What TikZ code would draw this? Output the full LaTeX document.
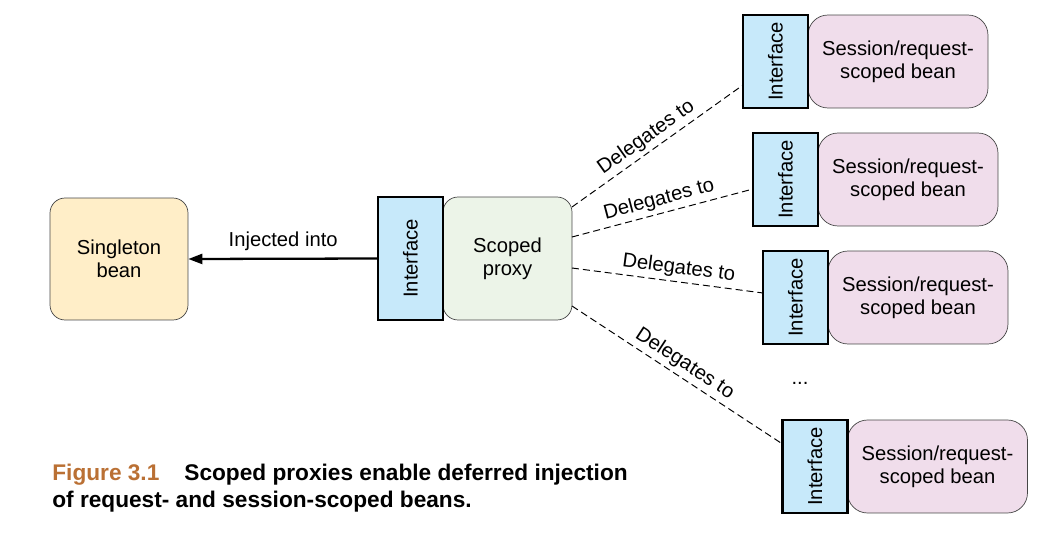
\documentclass[tikz,border=0pt]{standalone}
\usepackage{fontspec}
\setmainfont{Liberation Sans}
\usetikzlibrary{arrows.meta, positioning, calc}
\usepackage{xcolor}
\definecolor{singletonfill}{RGB}{255,238,200}
\definecolor{proxyfill}{RGB}{236,244,232}
\definecolor{ifacefill}{RGB}{199,233,250}
\definecolor{beanfill}{RGB}{240,221,235}
\definecolor{boxline}{RGB}{70,70,70}
\definecolor{figcolor}{RGB}{186,112,52}
\newcommand{\capfont}{\fontsize{12.9}{15}\selectfont\bfseries}

\begin{document}
\begin{tikzpicture}[x=0.02cm, y=-0.02cm,
    every node/.style={font=\fontsize{11.5}{13.1}\selectfont},
    iface/.style={draw, line width=1.2pt, fill=ifacefill, minimum width=1.3cm, inner sep=0pt, outer sep=0pt},
    bean/.style={draw=boxline, rounded corners=0.4cm, fill=beanfill, minimum width=3.6cm, minimum height=1.86cm, align=center, inner sep=0pt, outer sep=0pt},
    delegate/.style={dash pattern=on 0.14cm off 0.08cm, line width=0.55pt},
    dlabel/.style={sloped, above, inner sep=2pt}]
    \useasboundingbox (0,0) rectangle (1059,541);

    % singleton and proxy
    \node[draw=boxline, rounded corners=0.3cm, fill=singletonfill, minimum width=2.76cm, minimum height=2.44cm, align=center] (singleton) at (119,259) {Singleton\\bean};
    \node[draw=boxline, rounded corners=0.3cm, fill=proxyfill, minimum width=2.58cm, minimum height=2.46cm, align=center, outer sep=0pt] (proxy) at (507.5,258.5) {Scoped\\proxy};
    \node[iface, minimum height=2.46cm, left=0pt of proxy] (proxyif) {\rotatebox{90}{Interface}};

    % scoped beans
    \node[bean] (bean1) at (898,61.5) {Session/request-\\scoped bean};
    \node[iface, minimum height=1.86cm, left=0pt of bean1] (if1) {\rotatebox{90}{Interface}};
    \node[bean] (bean2) at (908,179.5) {Session/request-\\scoped bean};
    \node[iface, minimum height=1.86cm, left=0pt of bean2] (if2) {\rotatebox{90}{Interface}};
    \node[bean] (bean3) at (918,297.5) {Session/request-\\scoped bean};
    \node[iface, minimum height=1.86cm, left=0pt of bean3] (if3) {\rotatebox{90}{Interface}};
    \node (dots) at (800,383) {...};
    \node[bean] (bean4) at (937.5,466.5) {Session/request-\\scoped bean};
    \node[iface, minimum height=1.86cm, left=0pt of bean4] (if4) {\rotatebox{90}{Interface}};

    % connectors
    \draw[line width=1.3pt, -{Triangle[length=0.28cm, width=0.2cm]}] (proxyif.west) -- node[above, inner sep=4pt] {Injected into} (singleton.east);
    \draw[delegate] ($(proxy.east)+(0,-51.5)$) -- node[dlabel, pos=0.48] {Delegates to} ($(if1.west)+(0,23.5)$);
    \draw[delegate] ($(proxy.east)+(0,-21.5)$) -- node[dlabel] {Delegates to} ($(if2.west)+(0,9.5)$);
    \draw[delegate] ($(proxy.east)+(0,9.5)$) -- node[dlabel, pos=0.55] {Delegates to} ($(if3.west)+(0,-4.5)$);
    \draw[delegate] ($(proxy.east)+(0,47.5)$) -- node[dlabel] {Delegates to} ($(if4.west)+(0,-22.5)$);

    % caption
    \node[anchor=base west, inner sep=0pt, font=\capfont] (caption1) at (52,480) {\textcolor{figcolor}{Figure 3.1}\hspace{0.5cm}Scoped proxies enable deferred injection};
    \node[anchor=base west, inner sep=0pt, font=\capfont] (caption2) at (52,507) {of request- and session-scoped beans.};
\end{tikzpicture}
\end{document}
